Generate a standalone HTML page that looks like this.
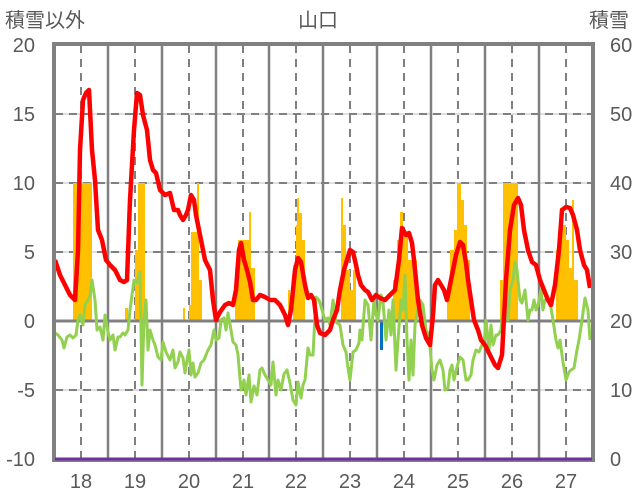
<!DOCTYPE html>
<html><head><meta charset="utf-8"><style>
html,body{margin:0;padding:0;background:#fff;}
svg{display:block;}
text{font-family:"Liberation Sans","Noto Sans CJK JP",sans-serif;fill:#595959;}
</style></head><body>
<svg width="636" height="501" viewBox="0 0 636 501" xmlns="http://www.w3.org/2000/svg">
<rect width="636" height="501" fill="#fff"/>
<g stroke="#bfbfbf" stroke-width="1">
<line x1="55" y1="114" x2="592" y2="114"/><line x1="55" y1="183" x2="592" y2="183"/>
<line x1="55" y1="252" x2="592" y2="252"/><line x1="55" y1="390" x2="592" y2="390"/>
</g>
<g stroke="#808080" stroke-width="2" stroke-dasharray="8,6">
<line x1="55" y1="114" x2="592" y2="114"/><line x1="55" y1="183" x2="592" y2="183"/>
<line x1="55" y1="252" x2="592" y2="252"/><line x1="55" y1="390" x2="592" y2="390"/>
<line x1="81" y1="45" x2="81" y2="459"/><line x1="135" y1="45" x2="135" y2="459"/>
<line x1="189" y1="45" x2="189" y2="459"/><line x1="243" y1="45" x2="243" y2="459"/>
<line x1="296" y1="45" x2="296" y2="459"/><line x1="350" y1="45" x2="350" y2="459"/>
<line x1="404" y1="45" x2="404" y2="459"/><line x1="458" y1="45" x2="458" y2="459"/>
<line x1="512" y1="45" x2="512" y2="459"/><line x1="566" y1="45" x2="566" y2="459"/>
</g>
<g stroke="#808080" stroke-width="2.5">
<line x1="108" y1="45" x2="108" y2="459"/><line x1="162" y1="45" x2="162" y2="459"/>
<line x1="216" y1="45" x2="216" y2="459"/><line x1="269" y1="45" x2="269" y2="459"/>
<line x1="323" y1="45" x2="323" y2="459"/><line x1="377" y1="45" x2="377" y2="459"/>
<line x1="431" y1="45" x2="431" y2="459"/><line x1="485" y1="45" x2="485" y2="459"/>
<line x1="539" y1="45" x2="539" y2="459"/>
</g>
<g fill="#ffc000">
<rect x="73" y="183" width="19" height="138"/>
<rect x="125" y="308" width="3" height="13"/>
<rect x="135" y="250" width="3" height="71"/><rect x="138" y="183" width="7" height="138"/>
<rect x="183" y="308" width="2" height="13"/><rect x="189" y="305" width="2" height="16"/>
<rect x="191" y="232" width="6" height="89"/><rect x="197" y="183" width="2" height="138"/><rect x="199" y="280" width="3" height="41"/>
<rect x="235" y="268" width="3" height="53"/><rect x="238" y="240" width="12" height="81"/><rect x="249" y="212" width="2" height="109"/><rect x="251" y="268" width="4" height="53"/>
<rect x="288" y="290" width="2" height="31"/><rect x="293" y="265" width="3" height="56"/><rect x="296" y="225" width="1" height="96"/>
<rect x="297" y="198" width="2" height="123"/><rect x="299" y="213" width="3" height="108"/><rect x="302" y="240" width="3" height="81"/>
<rect x="341" y="198" width="2" height="123"/><rect x="343" y="225" width="3" height="96"/><rect x="346" y="270" width="4" height="51"/><rect x="350" y="290" width="3" height="31"/><rect x="353" y="270" width="3" height="51"/>
<rect x="393" y="280" width="4" height="41"/><rect x="397" y="240" width="3" height="81"/><rect x="400" y="212" width="3" height="109"/><rect x="403" y="232" width="5" height="89"/><rect x="408" y="260" width="9" height="61"/>
<rect x="447" y="290" width="3" height="31"/><rect x="450" y="250" width="4" height="71"/><rect x="454" y="230" width="3" height="91"/><rect x="457" y="183" width="4" height="138"/><rect x="461" y="200" width="3" height="121"/><rect x="464" y="225" width="3" height="96"/><rect x="467" y="260" width="3" height="61"/>
<rect x="500" y="280" width="3" height="41"/><rect x="503" y="183" width="15" height="138"/>
<rect x="556" y="250" width="4" height="71"/><rect x="560" y="208" width="3" height="113"/><rect x="563" y="225" width="3" height="96"/><rect x="566" y="240" width="3" height="81"/><rect x="569" y="268" width="3" height="53"/><rect x="572" y="200" width="2" height="121"/><rect x="574" y="280" width="4" height="41"/>
</g>
<rect x="380" y="321" width="3" height="29" fill="#0070c0"/>
<line x1="55" y1="321" x2="592" y2="321" stroke="#808080" stroke-width="3"/>
<polyline fill="none" stroke="#92d050" stroke-width="3" stroke-linejoin="round" points="55,333 58,335 62,340 64,348 67,337 70,335 73,338 76,335 78,320 80,315 83,325 85,305 88,300 90,296 92,280 95,300 97,330 100,327 103,340 105,315 108,332 110,340 113,335 115,350 118,337 120,337 123,333 125,335 128,330 130,310 134,280 137,283 140,272 142,385 144,320 146,300 148,350 150,330 153,340 155,345 158,357 161,360 163,342 166,352 170,360 173,350 175,368 178,362 180,352 183,358 185,373 187,360 189,350 191,375 193,363 195,377 198,373 201,363 204,360 208,350 211,345 214,330 216,340 219,338 221,320 224,318 226,330 228,313 231,330 233,342 236,345 238,355 241,390 244,380 246,395 249,375 251,402 254,386 257,395 260,370 262,368 265,375 268,380 271,385 273,362 276,395 278,380 281,390 284,374 287,370 290,383 293,400 296,405 298,382 301,398 303,385 305,380 308,348 310,355 313,355 316,297 319,300 322,310 325,320 328,318 330,325 333,300 336,322 340,325 343,345 346,352 348,368 350,380 353,352 356,350 359,343 360,330 362,340 365,300 368,305 371,340 374,300 376,315 378,320 381,295 383,302 386,340 389,310 391,335 393,300 396,370 398,340 401,300 403,310 405,275 407,340 409,380 411,340 413,375 415,325 418,310 420,300 423,305 426,330 429,335 432,370 434,380 437,365 440,360 443,370 445,390 448,388 450,370 452,365 454,380 457,367 460,357 463,360 466,380 468,380 471,375 473,360 476,350 479,352 482,345 484,345 486,320 489,350 491,325 493,345 496,335 498,335 501,330 503,308 506,305 508,320 510,290 513,280 515,262 517,270 520,300 522,303 525,290 528,320 530,310 532,310 534,300 536,310 538,305 541,290 543,310 545,300 548,300 551,308 553,320 556,340 558,348 560,340 563,362 566,380 569,372 571,370 574,368 577,350 579,340 582,320 585,298 588,310 590,340"/>
<polyline fill="none" stroke="#ff0000" stroke-width="4.5" stroke-linejoin="round" points="55,260 60,275 65,285 70,295 75,300 78,250 80,150 83,100 86,93 89,90 92,150 95,180 98,230 102,240 106,260 110,265 115,270 120,280 124,282 127,280 130,200 134,130 137,93 140,95 143,115 147,130 150,160 153,170 156,173 160,190 165,195 170,193 174,210 178,210 180,215 183,220 186,215 188,210 191,195 194,200 196,215 199,230 202,245 205,260 210,270 213,300 216,320 220,312 225,305 229,303 233,305 236,290 239,250 241,243 244,260 247,270 250,282 253,300 256,300 260,295 265,297 270,300 275,300 280,305 285,315 288,325 291,310 295,270 298,258 301,262 305,285 308,298 311,295 314,300 317,325 320,333 325,335 330,330 333,320 337,310 340,290 344,270 347,260 350,250 353,252 356,265 358,275 361,285 365,290 368,292 372,300 376,295 380,298 385,300 390,295 395,290 399,260 402,228 406,235 409,233 412,243 414,260 418,300 422,325 426,338 430,345 433,315 435,285 438,280 441,285 444,290 447,300 450,285 453,270 456,255 460,242 463,245 466,263 468,280 471,300 474,320 478,330 481,340 485,345 490,355 495,365 498,368 502,355 506,280 510,230 514,205 518,198 521,205 524,230 528,250 532,262 536,265 540,280 544,290 548,300 551,305 555,285 559,250 562,210 566,207 570,208 573,215 577,230 580,250 584,265 587,270 590,288"/>
<rect x="54" y="44" width="539" height="416" fill="none" stroke="#808080" stroke-width="4"/>
<line x1="55" y1="459" x2="592" y2="459" stroke="#7030a0" stroke-width="3"/>
<g font-size="20" text-anchor="end">
<text x="35" y="52">20</text><text x="35" y="121">15</text><text x="35" y="190">10</text>
<text x="35" y="259">5</text><text x="35" y="328">0</text><text x="35" y="397">-5</text><text x="35" y="466">-10</text>
</g>
<g font-size="20" text-anchor="start">
<text x="610" y="52">60</text><text x="610" y="121">50</text><text x="610" y="190">40</text>
<text x="610" y="259">30</text><text x="610" y="328">20</text><text x="610" y="397">10</text><text x="610" y="466">0</text>
</g>
<g font-size="20" text-anchor="middle">
<text x="81" y="488">18</text><text x="135" y="488">19</text><text x="189" y="488">20</text>
<text x="243" y="488">21</text><text x="296" y="488">22</text><text x="350" y="488">23</text>
<text x="404" y="488">24</text><text x="458" y="488">25</text><text x="512" y="488">26</text><text x="566" y="488">27</text>
</g>
<text x="5" y="27" font-size="20">積雪以外</text>
<text x="318" y="27" font-size="20" text-anchor="middle">山口</text>
<text x="589" y="27" font-size="20">積雪</text>
</svg>
</body></html>
